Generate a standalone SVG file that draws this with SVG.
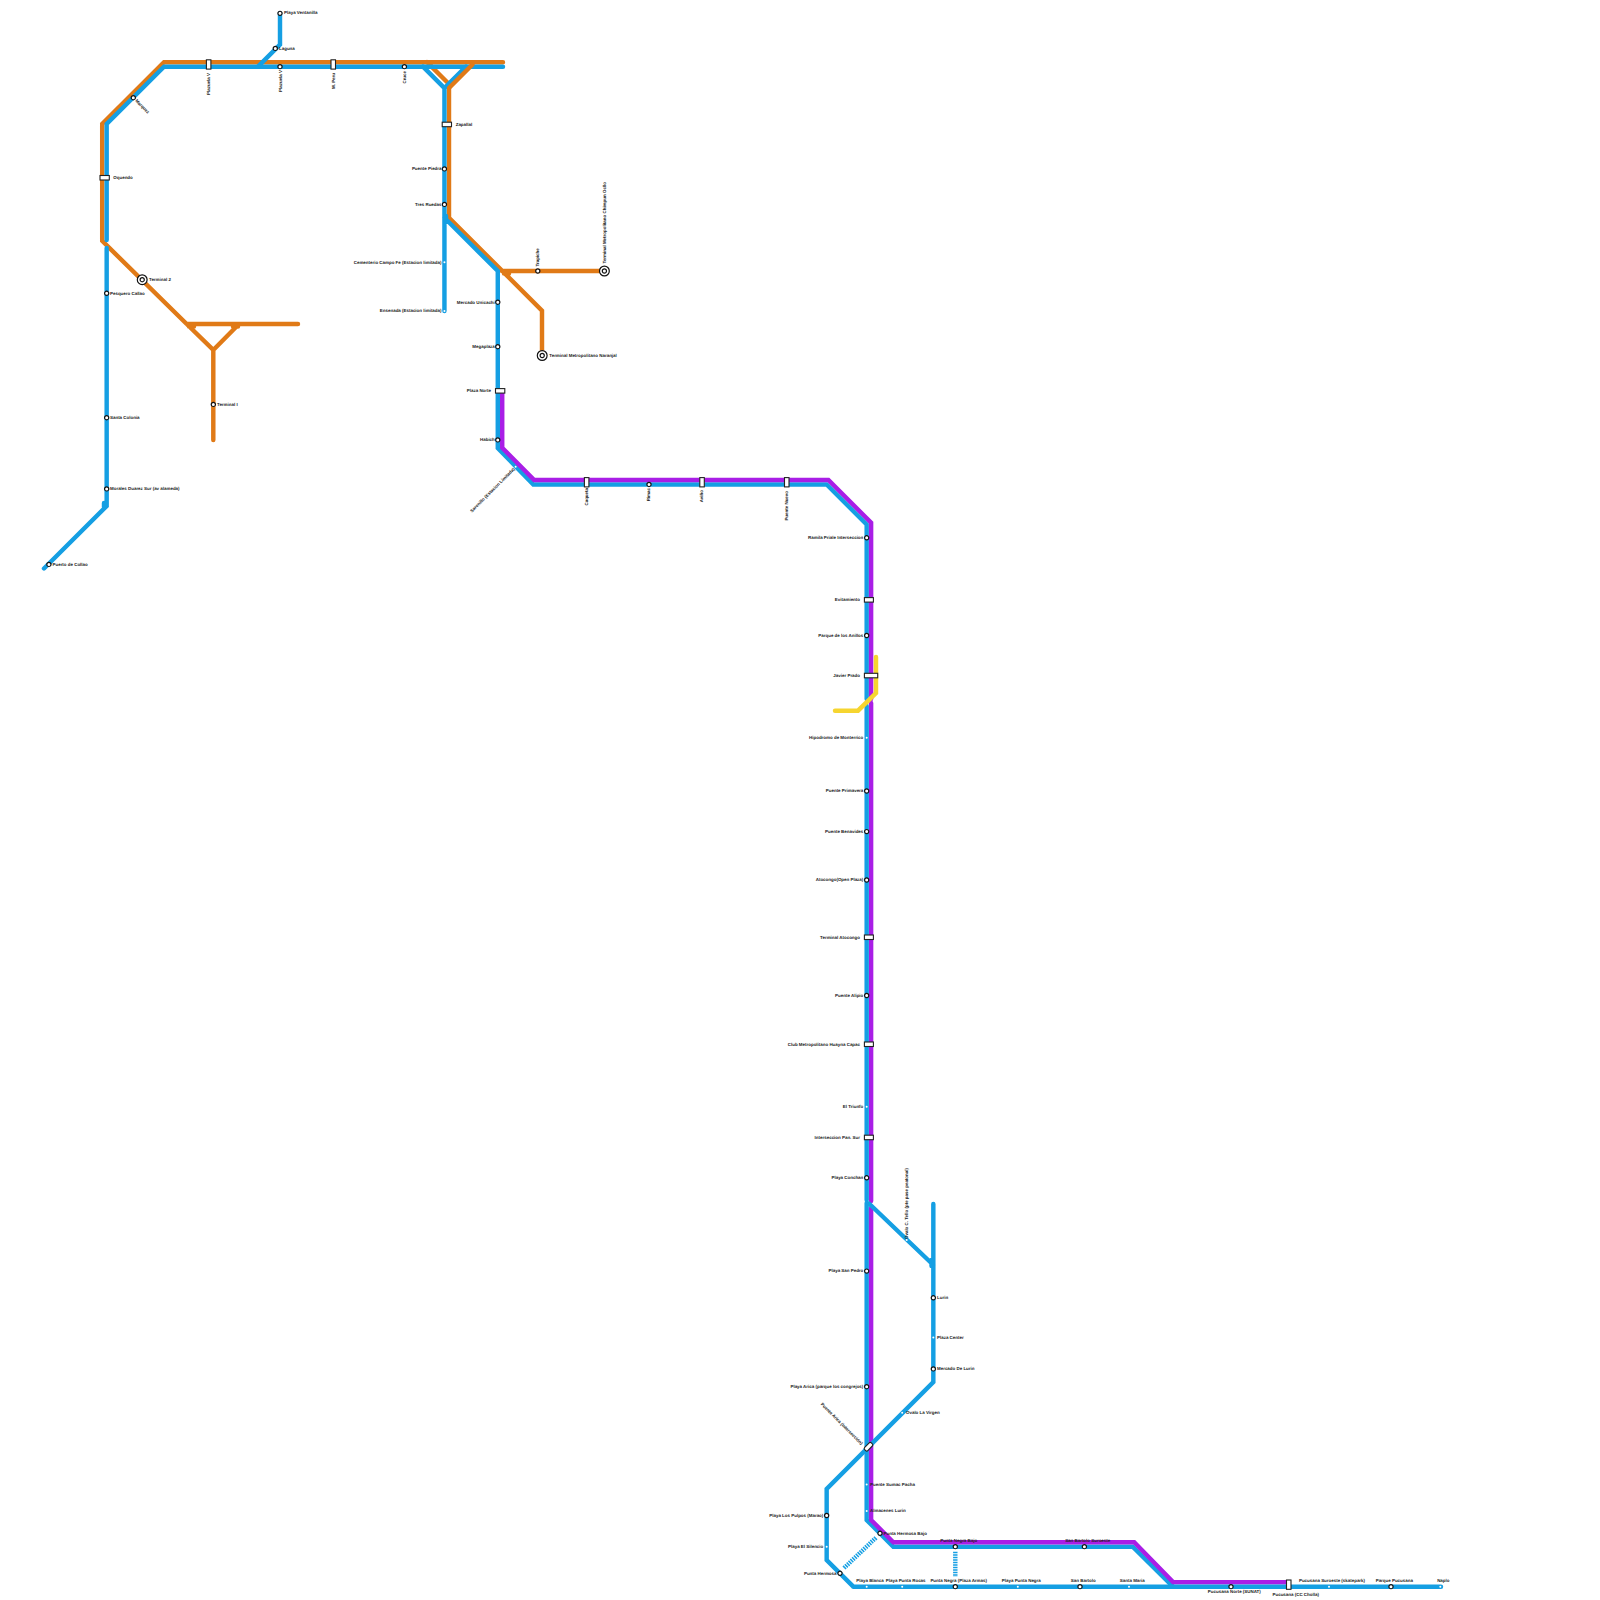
<svg xmlns="http://www.w3.org/2000/svg" width="1600" height="1600" viewBox="0 0 1600 1600">
<style>
text{font-family:"Liberation Sans",Arial,sans-serif;font-size:4.44px;font-weight:bold;fill:#222;dominant-baseline:central;text-rendering:geometricPrecision}
.e{text-anchor:end}.m{text-anchor:middle}
.l{fill:none;stroke-width:4.44;stroke-linecap:round;stroke-linejoin:miter}
.b{stroke:#159fe3}.o{stroke:#e07a17}.p{stroke:#a91ee6}.y{stroke:#f6d530}
.d{stroke-dasharray:1.5 1;stroke-linecap:butt}
.s{fill:#fff;stroke:#111;stroke-width:1.2}
.w{fill:#fff;stroke:none}
.r{fill:#fff;stroke:#222;stroke-width:1.1}
</style>
<defs>
<circle id="st" class="s" r="2.1"/>
<circle id="sm" class="w" r="1"/>
<g id="tm"><circle class="s" r="4.9"/><circle class="s" r="2.1"/></g>
</defs>
<rect width="1600" height="1600" fill="#fff"/>
<g id="connectors">
<path class="l o" d="M503 62.2H164L102.2 124V240.9L186.7 324L213.3 350V440M187 324H298M213.3 350L239 324M427 62.2L449 84M449 88V217.8L542 310.7V355M502 271H604M189 326.5H194M233 326.5H238M504 273.5H509"/>
<path class="l b" d="M503 66.67H164L106.67 124V240"/>
<path class="l b" d="M106.67 248V506L44 568.5M104 503V507"/>
<path class="l b" d="M280 13.33V44.5L258 66.67M423 66.67L444.44 88L466 66.67M444.44 88V311M444.44 217.8L497.78 271V448L533.33 484.44H826.67L866.67 524.44V699M446 216V222"/>
<path class="l o" d="M449 88L472.5 64.5"/>
<path class="l p" d="M502.22 392V447.8L534.2 480H828.4L871.11 522.7V699"/>
<path class="l p" d="M871.11 703V1201"/>
<path class="l b" d="M866.67 706V1200"/>
<path class="l b" d="M866.67 1203V1520L893.33 1546.67H1132.7L1173 1586.67"/>
<path class="l p" d="M871.11 1208V1520L893.33 1542.22H1134.2L1173.3 1582.2H1288"/>
<path class="l b" d="M853.33 1586.67H1441M853.33 1586.67L826.67 1560V1488.9L933.33 1382V1204M869 1203.5L933.33 1265M931.5 1260V1266"/>
<path class="l b d" d="M955.3 1551.7V1577M844 1568L876 1537.7"/>
<path class="l y" d="M835 710.7H858L876 693V657"/>
</g>
<g id="n1"><use href="#st" x="280" y="13.33"/><text x="284" y="12.8">Playa Ventanilla</text></g>
<g id="n2"><use href="#st" x="275.3" y="48.4"/><text x="279" y="48">Laguna</text></g>
<g id="n3"><use href="#st" x="280" y="66.67"/><text class="e" transform="translate(280 70) rotate(-90)">Plazuela V</text></g>
<g id="n4"><rect class="r" x="206.4" y="59.8" width="4.5" height="9.3"/><text class="e" transform="translate(208 73) rotate(-90)">Plazuela V</text></g>
<g id="n5"><rect class="r" x="331" y="59.8" width="4.5" height="9.3"/><text class="e" transform="translate(333.3 73) rotate(-90)">M. Peru</text></g>
<g id="n6"><use href="#st" x="404.4" y="66.67"/><text class="e" transform="translate(404.4 71) rotate(-90)">Cruce</text></g>
<g id="n7"><use href="#st" x="133.3" y="97.7"/><text transform="translate(136 100) rotate(45)">Marquez</text></g>
<g id="n8"><rect class="r" x="100" y="175.5" width="9.3" height="4.5"/><text x="113.3" y="177.5">Oquendo</text></g>
<g id="n9"><use href="#tm" x="142.2" y="279.7"/><text x="149" y="279.5">Terminal 2</text></g>
<g id="n10"><use href="#st" x="106.67" y="293.3"/><text x="110" y="293">Pesquero Callao</text></g>
<g id="n11"><use href="#st" x="106.67" y="417.7"/><text x="110" y="417.5">Santa Colonia</text></g>
<g id="n12"><use href="#st" x="106.67" y="488.9"/><text x="110" y="488.5">Morales Duarez Sur (av alameda)</text></g>
<g id="n13"><use href="#st" x="48.9" y="564.4"/><text x="52.5" y="564">Puerto de Collao</text></g>
<g id="n14"><use href="#st" x="213.33" y="404.4"/><text x="217" y="404">Terminal I</text></g>
<g id="n15"><rect class="r" x="442.2" y="122.2" width="9.3" height="4.5"/><text x="455.7" y="124">Zapallal</text></g>
<g id="n16"><use href="#st" x="444.44" y="168.9"/><text class="e" x="441.5" y="168.5">Puente Piedra</text></g>
<g id="n17"><use href="#st" x="444.44" y="204.4"/><text class="e" x="441.5" y="204">Tres Ruedas</text></g>
<g id="n18"><use href="#sm" x="444.44" y="262.2"/><text class="e" x="441.5" y="262">Cementerio Campo Fe (Estacion limitada)</text></g>
<g id="n19"><use href="#sm" x="444.44" y="311.1"/><text class="e" x="441.5" y="310.7">Ensenada (Estacion limitada)</text></g>
<g id="n20"><use href="#st" x="497.78" y="302.2"/><text class="e" x="494.8" y="302">Mercado Unicachi</text></g>
<g id="n21"><use href="#st" x="497.78" y="346.7"/><text class="e" x="494.8" y="346.3">Megaplaza</text></g>
<g id="n22"><rect class="r" x="495.5" y="388.6" width="9.3" height="4.5"/><text class="e" x="491" y="390.5">Plaza Norte</text></g>
<g id="n23"><use href="#st" x="497.78" y="439.9"/><text class="e" x="494.8" y="439.5">Habich</text></g>
<g id="n24"><use href="#st" x="537.8" y="271"/><text transform="translate(537.6 266.5) rotate(-90)">Trapiche</text></g>
<g id="n25"><use href="#tm" x="604.4" y="271"/><text transform="translate(604.4 263.5) rotate(-90)">Terminal Metropolitano Chimpun Ocllo</text></g>
<g id="n26"><use href="#tm" x="542.2" y="355.5"/><text x="549.3" y="355">Terminal Metropolitano Naranjal</text></g>
<g id="n27"><use href="#sm" x="515.6" y="466.7"/><text class="e" transform="translate(514 468.5) rotate(-45)">Sarenillo (Estacion Limitada)</text></g>
<g id="n28"><rect class="r" x="584.4" y="477.6" width="4.5" height="9.3"/><text class="e" transform="translate(586.3 488) rotate(-90)">Caqueta</text></g>
<g id="n29"><use href="#st" x="649" y="484.44"/><text class="e" transform="translate(648.6 488) rotate(-90)">Rimac</text></g>
<g id="n30"><rect class="r" x="699.8" y="477.6" width="4.5" height="9.3"/><text class="e" transform="translate(701.7 490) rotate(-90)">Aviño</text></g>
<g id="n31"><rect class="r" x="784.5" y="477.6" width="4.5" height="9.3"/><text class="e" transform="translate(786.5 491) rotate(-90)">Puente Nuevo</text></g>
<g id="n32"><use href="#st" x="866.67" y="537.8"/><text class="e" x="863.3" y="537.3">Ramila Priale Interseccion</text></g>
<g id="n33"><rect class="r" x="864.4" y="597.6" width="9" height="4.5"/><text class="e" x="860" y="599.5">Evitamiento</text></g>
<g id="n34"><use href="#st" x="866.67" y="635.5"/><text class="e" x="863.3" y="635">Parque de los Anillos</text></g>
<g id="n35"><rect class="r" x="864.4" y="673.3" width="13.3" height="4.5"/><text class="e" x="860" y="675">Javier Prado</text></g>
<g id="n36"><use href="#sm" x="866.67" y="737.8"/><text class="e" x="863.3" y="737.3">Hipodromo de Monterrico</text></g>
<g id="n37"><use href="#st" x="866.67" y="791"/><text class="e" x="863.3" y="790.7">Puente Primavera</text></g>
<g id="n38"><use href="#st" x="866.67" y="831.6"/><text class="e" x="863.3" y="831.3">Puente Benavides</text></g>
<g id="n39"><use href="#st" x="866.67" y="880"/><text class="e" x="863.3" y="879.7">Atocongo(Open Plaza)</text></g>
<g id="n40"><rect class="r" x="864.4" y="935" width="9" height="4.5"/><text class="e" x="860" y="937">Terminal Atocongo</text></g>
<g id="n41"><use href="#st" x="866.67" y="995.5"/><text class="e" x="863.3" y="995">Puente Alipio</text></g>
<g id="n42"><rect class="r" x="864.4" y="1042" width="9" height="4.5"/><text class="e" x="860" y="1044">Club Metropolitano Huayna Capac</text></g>
<g id="n43"><use href="#sm" x="866.67" y="1106.7"/><text class="e" x="863.3" y="1106.3">El Triunfo</text></g>
<g id="n44"><rect class="r" x="864.4" y="1135.2" width="9" height="4.5"/><text class="e" x="860" y="1137">Interseccion Pan. Sur</text></g>
<g id="n45"><use href="#st" x="866.67" y="1177.8"/><text class="e" x="863.3" y="1177.3">Playa Conchan</text></g>
<g id="n46"><use href="#st" x="866.67" y="1271.1"/><text class="e" x="863.3" y="1270.7">Playa San Pedro</text></g>
<g id="n47"><use href="#st" x="866.67" y="1386.7"/><text class="e" x="863.3" y="1386.3">Playa Arica (parque los congrejos)</text></g>
<g id="n48"><rect class="r" x="-4.7" y="-2.2" width="9.4" height="4.4" rx="1.5" transform="translate(868.5 1446.7) rotate(-45)"/><text class="e" transform="translate(862 1444) rotate(45)">Puente Arica (intersección)</text></g>
<g id="n49"><use href="#sm" x="866.67" y="1484.4"/><text x="870" y="1484">Puente Sumac Pacha</text></g>
<g id="n50"><use href="#sm" x="866.67" y="1511"/><text x="870" y="1510.5">Almacenes Lurin</text></g>
<g id="n51"><use href="#st" x="880" y="1533.3"/><text x="883.5" y="1533">Punta Hermosa Bajo</text></g>
<g id="n52"><use href="#st" x="955.3" y="1546.67"/><text class="m" x="958.7" y="1540.7">Punta Negra Bajo</text></g>
<g id="n53"><use href="#st" x="955.3" y="1586.67"/><text class="m" x="958.7" y="1580.7">Punta Negra (Plaza Armas)</text></g>
<g id="n54"><use href="#st" x="840" y="1573.3"/><text class="e" x="836.5" y="1573">Punta Hermosa</text></g>
<g id="n55"><use href="#sm" x="826.67" y="1546.7"/><text class="e" x="823.3" y="1546.3">Playa El Silencio</text></g>
<g id="n56"><use href="#st" x="826.67" y="1515.5"/><text class="e" x="823.3" y="1515">Playa Los Pulpos (Marao)</text></g>
<g id="n57"><use href="#sm" x="866.67" y="1586.67"/><text class="m" x="870" y="1580.7">Playa Blanca</text></g>
<g id="n58"><use href="#sm" x="902.2" y="1586.67"/><text class="m" x="905.7" y="1580.7">Playa Punta Rocas</text></g>
<g id="n59"><use href="#sm" x="902.2" y="1412.7"/><text x="906" y="1412.5">Ovalo La Virgen</text></g>
<g id="n60"><use href="#sm" x="906.7" y="1240"/><text transform="translate(906.7 1239) rotate(-90)">Ovalo C. Tello (pte pase peatonal)</text></g>
<g id="n61"><use href="#st" x="933.33" y="1297.8"/><text x="937" y="1297.3">Lurin</text></g>
<g id="n62"><use href="#sm" x="933.33" y="1337.5"/><text x="937" y="1337">Plaza Center</text></g>
<g id="n63"><use href="#st" x="933.33" y="1368.9"/><text x="937" y="1368.5">Mercado De Lurin</text></g>
<g id="n64"><use href="#sm" x="1017.8" y="1586.67"/><text class="m" x="1021.3" y="1580.7">Playa Punta Negra</text></g>
<g id="n65"><use href="#st" x="1080" y="1586.67"/><text class="m" x="1083.3" y="1580.7">San Bartolo</text></g>
<g id="n66"><use href="#sm" x="1129" y="1586.67"/><text class="m" x="1132.3" y="1580.7">Santa Maria</text></g>
<g id="n67"><use href="#st" x="1084.4" y="1546.67"/><text class="m" x="1087.7" y="1540.5">San Bartolo Suroeste</text></g>
<g id="n68"><use href="#st" x="1231" y="1586.67"/><text class="m" x="1234.3" y="1591.7">Pucusana Norte (SUNAT)</text></g>
<g id="n69"><rect class="r" x="1286.5" y="1580" width="4.5" height="9.3"/><text class="m" x="1295.7" y="1594">Pucusana (CC Cholla)</text></g>
<g id="n70"><use href="#sm" x="1329" y="1586.67"/><text class="m" x="1332" y="1580.7">Pucusana Suroeste (skatepark)</text></g>
<g id="n71"><use href="#st" x="1391" y="1586.67"/><text class="m" x="1394.3" y="1580.7">Parque Pucusana</text></g>
<g id="n72"><use href="#sm" x="1440.3" y="1586.67"/><text class="m" x="1443.3" y="1580.7">Naplo</text></g>
</svg>
